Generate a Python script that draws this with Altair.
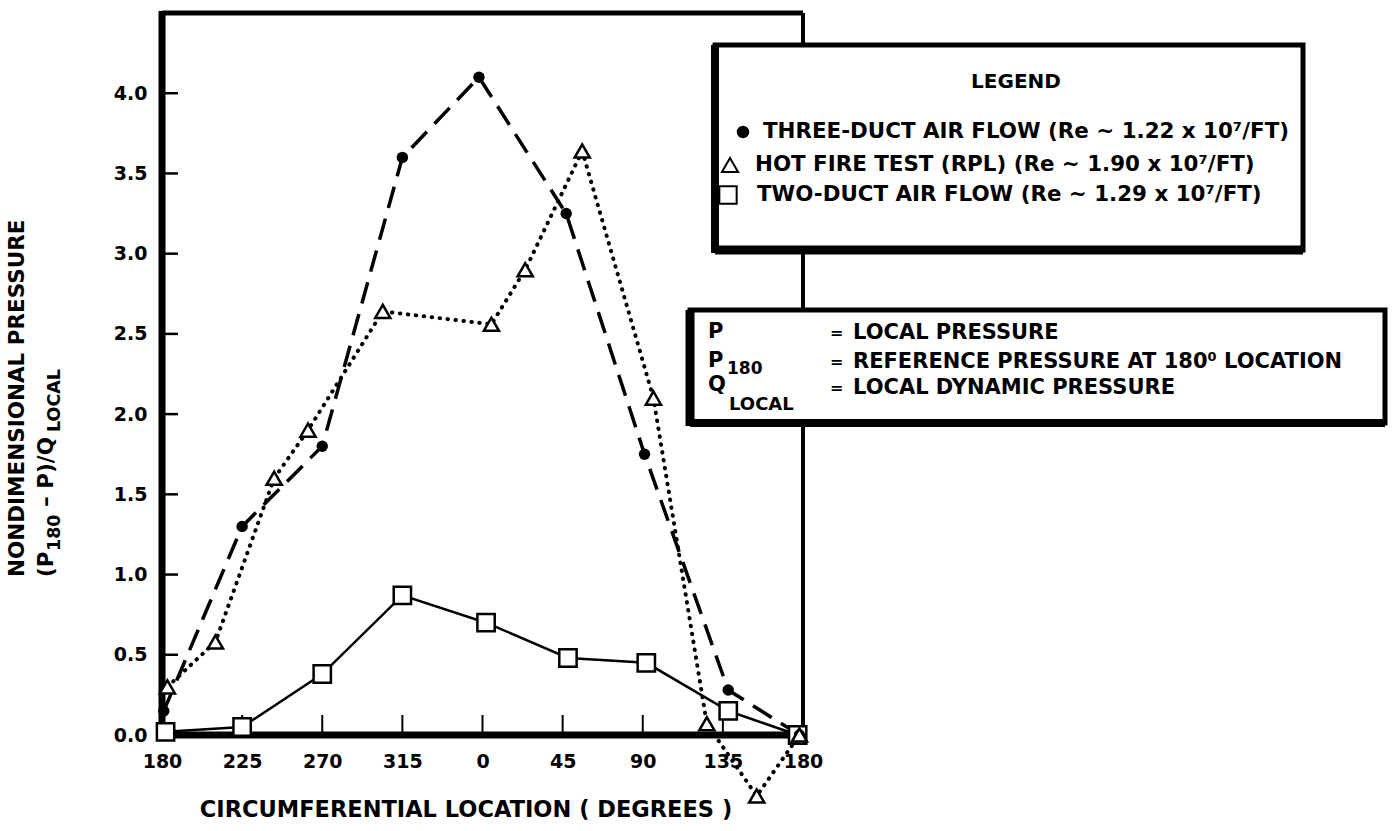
import json
import altair as alt
import pandas as pd

# Circumferential location in degrees, unwrapped (180 -> 360 == 0 -> 540 == 180)
three_loc = [181, 225, 270, 315, 358, 407, 451, 498, 538]
three_val = [0.15, 1.30, 1.80, 3.60, 4.10, 3.25, 1.75, 0.28, 0.00]

hot_loc = [183, 210, 243, 262, 304, 365, 384, 416, 456, 486, 514, 538]
hot_val = [0.30, 0.58, 1.60, 1.90, 2.64, 2.56, 2.90, 3.64, 2.10, 0.07, -0.38, 0.00]

two_loc = [182, 225, 270, 315, 362, 408, 452, 498, 537]
two_val = [0.02, 0.05, 0.38, 0.87, 0.70, 0.48, 0.45, 0.15, 0.00]

x_ticks = [180, 225, 270, 315, 360, 405, 450, 495, 540]
x_tick_labels = ["180", "225", "270", "315", "0", "45", "90", "135", "180"]
y_ticks = [0.0, 0.5, 1.0, 1.5, 2.0, 2.5, 3.0, 3.5, 4.0]

FONT = "DejaVu Sans"
W, H = 641, 722

three = pd.DataFrame({"loc": three_loc, "val": three_val})
hot = pd.DataFrame({"loc": hot_loc, "val": hot_val})
two = pd.DataFrame({"loc": two_loc, "val": two_val})

label_expr = f"{json.dumps(x_tick_labels)}[indexof({json.dumps(x_ticks)}, datum.value)]"

x_enc = alt.X(
    "loc:Q",
    scale=alt.Scale(domain=[180, 540], nice=False, zero=False),
    axis=alt.Axis(
        values=x_ticks, labelExpr=label_expr, ticks=False, domain=False, grid=False,
        labelFont=FONT, labelFontSize=19, labelFontWeight="bold", labelColor="black",
        labelPadding=17, labelOverlap=False, labelFlush=False, title=None,
    ),
)
y_enc = alt.Y(
    "val:Q",
    scale=alt.Scale(domain=[0, 4.5], nice=False, zero=False),
    axis=alt.Axis(
        values=y_ticks, format=".1f", ticks=False, domain=False, grid=False,
        labelFont=FONT, labelFontSize=19, labelFontWeight="bold", labelColor="black",
        labelPadding=15, labelOverlap=False, labelFlush=False, title=None,
    ),
)

one = alt.Data(values=[{"k": 1}])


def rule(x, x2, y, y2, w):
    return alt.Chart(one).mark_rule(color="black", strokeWidth=w).encode(
        x=alt.value(x), x2=alt.value(x2), y=alt.value(y), y2=alt.value(y2)
    )


def text(s, x, y, size=21, align="left", angle=0):
    return alt.Chart(one).mark_text(
        text=s, font=FONT, fontSize=size, fontWeight="bold", color="black",
        align=align, baseline="middle", angle=angle,
    ).encode(x=alt.value(x), y=alt.value(y))


# inward tick marks
xt = alt.Chart(pd.DataFrame({"loc": x_ticks[1:-1]})).mark_rule(
    color="black", strokeWidth=2
).encode(x=alt.X("loc:Q"), y=alt.value(H), y2=alt.value(H - 20))
yt = alt.Chart(pd.DataFrame({"val": y_ticks[1:]})).mark_rule(
    color="black", strokeWidth=2.5
).encode(y=alt.Y("val:Q"), x=alt.value(0), x2=alt.value(16))

frame = [
    rule(0, W, 0, 0, 5),
    rule(W, W, 0, H, 4),
    rule(0, 0, -2, H + 3, 7),
    rule(-3, W + 2, H, H, 7),
]

base_axes = alt.Chart(three).mark_point(opacity=0).encode(x=x_enc, y=y_enc)

line_three = alt.Chart(three).mark_line(
    color="black", strokeWidth=3.5, strokeDash=[22, 11]
).encode(x="loc:Q", y="val:Q")
line_hot = alt.Chart(hot).mark_line(
    color="black", strokeWidth=4, strokeDash=[0.5, 7.5], strokeCap="round"
).encode(x="loc:Q", y="val:Q")
line_two = alt.Chart(two).mark_line(color="black", strokeWidth=2.5).encode(
    x="loc:Q", y="val:Q"
)

pts_three = alt.Chart(three).mark_point(
    shape="circle", filled=True, color="black", size=130, opacity=1
).encode(x="loc:Q", y="val:Q")
pts_hot = alt.Chart(hot).mark_point(
    shape="triangle-up", filled=False, fill="white", fillOpacity=1, stroke="black",
    strokeWidth=2.5, size=230, opacity=1
).encode(x="loc:Q", y="val:Q")
pts_two = alt.Chart(two).mark_point(
    shape="square", filled=False, fill="white", fillOpacity=1, stroke="black",
    strokeWidth=2.5, size=300, opacity=1
).encode(x="loc:Q", y="val:Q")

# legend box
box1 = alt.Chart(one).mark_rect(fill="white", stroke="black", strokeWidth=5).encode(
    x=alt.value(553), x2=alt.value(1141), y=alt.value(32), y2=alt.value(237)
)
box1_edges = [rule(553, 553, 32, 240, 8), rule(553, 1141, 237, 237, 9)]


def sym(shape, x, y, filled, size):
    return alt.Chart(one).mark_point(
        shape=shape, filled=filled, fill="black" if filled else "white", fillOpacity=1,
        stroke="black", strokeWidth=2, size=size, opacity=1,
    ).encode(x=alt.value(x), y=alt.value(y))


legend_items = [
    text("LEGEND", 854, 69, size=20, align="center"),
    sym("circle", 581, 119, True, 110),
    text("THREE-DUCT AIR FLOW (Re ~ 1.22 x 10⁷/FT)", 601, 119, size=21.4),
    sym("triangle-up", 568, 152, False, 260),
    text("HOT FIRE TEST (RPL) (Re ~ 1.90 x 10⁷/FT)", 593, 152, size=21.4),
    sym("square", 566, 182, False, 300),
    text("TWO-DUCT AIR FLOW (Re ~ 1.29 x 10⁷/FT)", 595, 182, size=21.4),
]

# symbol definitions box
box2 = alt.Chart(one).mark_rect(fill="white", stroke="black", strokeWidth=5).encode(
    x=alt.value(528), x2=alt.value(1223), y=alt.value(297), y2=alt.value(410)
)
box2_edges = [rule(528, 528, 297, 413, 9), rule(528, 1223, 410, 410, 8)]
defs = [
    text("P", 546, 319),
    text("P", 546, 348),
    text("180", 565, 356, size=17),
    text("Q", 546, 372),
    text("LOCAL", 567, 392, size=18),
    text("=", 668, 320, size=16),
    text("=", 668, 349, size=16),
    text("=", 668, 375, size=16),
    text("LOCAL PRESSURE", 691, 320),
    text("REFERENCE PRESSURE AT 180⁰ LOCATION", 691, 349),
    text("LOCAL DYNAMIC PRESSURE", 691, 375),
]

# axis titles
titles = [
    text("CIRCUMFERENTIAL LOCATION  ( DEGREES )", 304, 797, size=22.5, align="center"),
    text("NONDIMENSIONAL PRESSURE", -144, 564, size=21.5, angle=270),
    text("(P", -115, 564, size=21.5, angle=270),
    text("180", -107, 538, size=17.5, angle=270),
    text("– P)/Q", -115, 494, size=21.5, angle=270),
    text("LOCAL", -107, 419, size=17.5, angle=270),
]

chart = alt.layer(
    base_axes, xt, yt, *frame,
    line_two, line_three, line_hot,
    pts_two, pts_three, pts_hot,
    box1, *box1_edges, *legend_items,
    box2, *box2_edges, *defs,
    *titles,
).properties(
    width=W, height=H,
    autosize=alt.AutoSizeParams(type="none"),
    padding={"left": 162, "top": 13, "right": 596, "bottom": 96},
    background="white",
).configure_view(stroke=None)

chart.save("out.html", embed_options={"renderer": "svg", "actions": False})
